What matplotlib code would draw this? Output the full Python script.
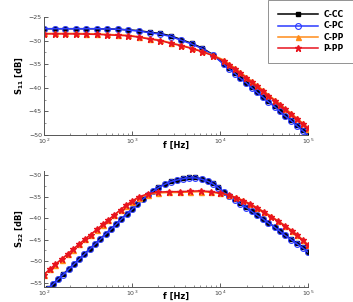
import numpy as np
import matplotlib
matplotlib.use("Agg")
import matplotlib.pyplot as plt
from matplotlib.ticker import LogLocator, MultipleLocator, NullFormatter

# ---- data (log10 of frequency in Hz, level in dB) ----
# S11
s11_exp_c = [2.00, 2.12, 2.24, 2.36, 2.48, 2.60, 2.72, 2.84, 2.96, 3.08, 3.20, 3.32,
             3.44, 3.56, 3.68, 3.80, 3.92, 4.04, 4.10, 4.17, 4.23, 4.30, 4.36, 4.42,
             4.49, 4.55, 4.62, 4.68, 4.74, 4.81, 4.87, 4.94, 5.00]
s11_ccc = [-27.5, -27.5, -27.5, -27.5, -27.5, -27.5, -27.55, -27.6, -27.75, -27.9, -28.25, -28.5,
           -29.0, -29.8, -30.6, -31.6, -33.0, -34.9, -35.9, -36.9, -37.9, -38.9, -39.9, -40.9,
           -41.9, -42.9, -43.9, -44.9, -45.9, -46.9, -47.9, -48.95, -49.95]
s11_cpc = [-27.5, -27.5, -27.5, -27.5, -27.5, -27.5, -27.55, -27.6, -27.8, -28.0, -28.35, -28.65,
           -29.15, -29.95, -30.75, -31.75, -33.1, -35.0, -36.0, -37.0, -38.0, -39.0, -40.0, -41.0,
           -42.0, -43.0, -44.0, -45.0, -46.0, -47.0, -48.0, -49.1, -50.0]
s11_cpp = [-28.5, -28.5, -28.5, -28.5, -28.55, -28.6, -28.7, -28.8, -28.9, -29.2, -29.6, -29.9,
           -30.5, -31.0, -31.6, -32.3, -33.1, -34.1, -34.9, -35.8, -36.7, -37.7, -38.6, -39.5,
           -40.5, -41.5, -42.5, -43.4, -44.4, -45.4, -46.4, -47.5, -48.7]
s11_ppp = [-28.6, -28.6, -28.6, -28.6, -28.65, -28.7, -28.8, -28.9, -29.0, -29.3, -29.7, -30.0,
           -30.6, -31.1, -31.7, -32.4, -33.2, -34.3, -35.1, -36.0, -36.9, -37.9, -38.8, -39.7,
           -40.7, -41.7, -42.7, -43.6, -44.6, -45.6, -46.6, -47.6, -48.6]

# S22
s22_exp_c = [2.00, 2.05, 2.10, 2.16, 2.22, 2.28, 2.34, 2.40, 2.46, 2.52, 2.58, 2.64, 2.70,
             2.76, 2.82, 2.88, 2.94, 3.00, 3.06, 3.12, 3.18, 3.24, 3.30, 3.37, 3.44, 3.51,
             3.58, 3.65, 3.72, 3.79, 3.86, 3.92, 3.98, 4.04, 4.10, 4.17, 4.23, 4.30, 4.36,
             4.42, 4.49, 4.55, 4.62, 4.68, 4.74, 4.81, 4.87, 4.94, 5.00]
s22_ccc = [-57.3, -56.3, -55.3, -54.1, -53.0, -51.8, -50.6, -49.45, -48.3, -47.1, -45.9, -44.8, -43.6,
           -42.45, -41.3, -40.1, -38.95, -37.8, -36.6, -35.5, -34.5, -33.6, -32.8, -32.0, -31.4, -31.0,
           -30.7, -30.5, -30.5, -30.8, -31.3, -31.9, -32.8, -33.9, -34.7, -35.6, -36.5, -37.4, -38.3,
           -39.2, -40.1, -41.0, -42.0, -42.9, -43.9, -44.9, -45.8, -46.8, -47.8]
s22_cpc = [-57.4, -56.4, -55.4, -54.2, -53.1, -51.9, -50.7, -49.55, -48.4, -47.2, -46.0, -44.9, -43.7,
           -42.55, -41.4, -40.2, -39.05, -37.9, -36.7, -35.6, -34.6, -33.7, -32.9, -32.1, -31.5, -31.1,
           -30.8, -30.6, -30.6, -30.9, -31.4, -32.0, -32.9, -34.0, -34.8, -35.7, -36.6, -37.5, -38.4,
           -39.3, -40.2, -41.1, -42.1, -43.0, -44.0, -45.0, -45.9, -46.9, -47.9]
s22_exp_p = [2.00, 2.07, 2.13, 2.20, 2.27, 2.33, 2.40, 2.47, 2.53, 2.60, 2.67, 2.73, 2.80,
             2.87, 2.93, 3.00, 3.08, 3.18, 3.30, 3.42, 3.54, 3.66, 3.78, 3.90, 4.00, 4.10,
             4.18, 4.26, 4.34, 4.42, 4.50, 4.58, 4.66, 4.74, 4.82, 4.88, 4.94, 5.00]
s22_cpp = [-53.2, -51.9, -50.8, -49.6, -48.4, -47.3, -46.1, -44.9, -43.9, -42.7, -41.5, -40.5, -39.3,
           -38.1, -37.1, -36.1, -35.2, -34.5, -34.1, -34.0, -34.0, -33.9, -33.8, -34.0, -34.2, -34.6,
           -35.1, -35.8, -36.6, -37.5, -38.5, -39.5, -40.6, -41.7, -42.9, -43.9, -45.0, -46.2]
s22_ppp = [-53.1, -51.8, -50.7, -49.5, -48.3, -47.2, -46.0, -44.8, -43.8, -42.6, -41.4, -40.4, -39.2,
           -38.0, -37.0, -36.0, -35.0, -34.3, -33.9, -33.8, -33.8, -33.7, -33.6, -33.8, -34.1, -34.6,
           -35.2, -35.9, -36.7, -37.6, -38.6, -39.6, -40.7, -41.8, -43.0, -44.0, -45.1, -46.3]

labels = ["C-CC", "C-PC", "C-PP", "P-PP"]
colors = ["#000000", "#2b3bff", "#ff8c1a", "#e8141e"]


def style_axis(ax, ylim, ymajor, ylabel):
    """Tecplot-ish axis: only left/bottom spines, ticks pointing inside"""
    ax.set_xscale("log")
    ax.set_xlim(1e2, 1e5)
    ax.set_ylim(*ylim)
    for s in ["top", "right"]:
        ax.spines[s].set_visible(False)
    for s in ["left", "bottom"]:
        ax.spines[s].set_linewidth(0.7)
        ax.spines[s].set_color("#555555")
    ax.xaxis.set_major_locator(LogLocator(base=10, numticks=10))
    ax.xaxis.set_minor_locator(LogLocator(base=10, subs=np.arange(2, 10), numticks=10))
    ax.xaxis.set_minor_formatter(NullFormatter())
    ax.yaxis.set_major_locator(MultipleLocator(ymajor))
    ax.yaxis.set_minor_locator(MultipleLocator(ymajor / 2))
    ax.tick_params(which="major", direction="in", length=3, width=0.6, labelsize=4.5,
                   colors="#444444", pad=1.5, top=False, right=False)
    ax.tick_params(which="minor", direction="in", length=1.6, width=0.5, colors="#666666",
                   top=False, right=False)
    ax.set_xlabel("f [Hz]", fontsize=6, fontweight="bold")
    ax.set_ylabel(ylabel, fontsize=6, fontweight="bold", labelpad=3)


def draw(ax, exps, series):
    styles = [dict(marker="s", ms=2.6, mfc=colors[0], mec=colors[0]),
              dict(marker="o", ms=4.2, mfc="none", mec=colors[1], mew=0.8),
              dict(marker="^", ms=3.6, mfc=colors[2], mec=colors[2]),
              dict(marker="*", ms=4.6, mfc=colors[3], mec=colors[3])]
    lines = []
    for i, (e, vals) in enumerate(zip(exps, series)):
        f = 10.0 ** np.array(e)
        ln, = ax.plot(f, vals, color=colors[i], lw=1.1, label=labels[i], clip_on=True, **styles[i])
        lines.append(ln)
    return lines


fig = plt.figure(figsize=(3.53, 3.02), dpi=100)
ax1 = fig.add_axes([0.1246, 0.553, 0.748, 0.391])
ax2 = fig.add_axes([0.1246, 0.0497, 0.748, 0.384])

lines = draw(ax1, [s11_exp_c, s11_exp_c, s11_exp_c, s11_exp_c], [s11_ccc, s11_cpc, s11_cpp, s11_ppp])
draw(ax2, [s22_exp_c, s22_exp_c, s22_exp_p, s22_exp_p], [s22_ccc, s22_cpc, s22_cpp, s22_ppp])

style_axis(ax1, (-50, -25), 5, r"S$_{\bf 11}$ [dB]")
style_axis(ax2, (-56, -29), 5, r"S$_{\bf 22}$ [dB]")
# x labels sit close under the tick labels
ax1.xaxis.set_label_coords(0.5, -0.052)
ax2.xaxis.set_label_coords(0.5, -0.045)

leg = fig.legend(handles=lines, loc="upper left", bbox_to_anchor=(0.759, 1.0),
                 prop=dict(size=5.5, weight="bold"), handlelength=5.2, handletextpad=0.8,
                 labelspacing=0.3, borderpad=1.3, borderaxespad=0, fancybox=False,
                 frameon=True, edgecolor="#777777")
leg.get_frame().set_linewidth(0.7)

fig.savefig("out.png", dpi=100)
